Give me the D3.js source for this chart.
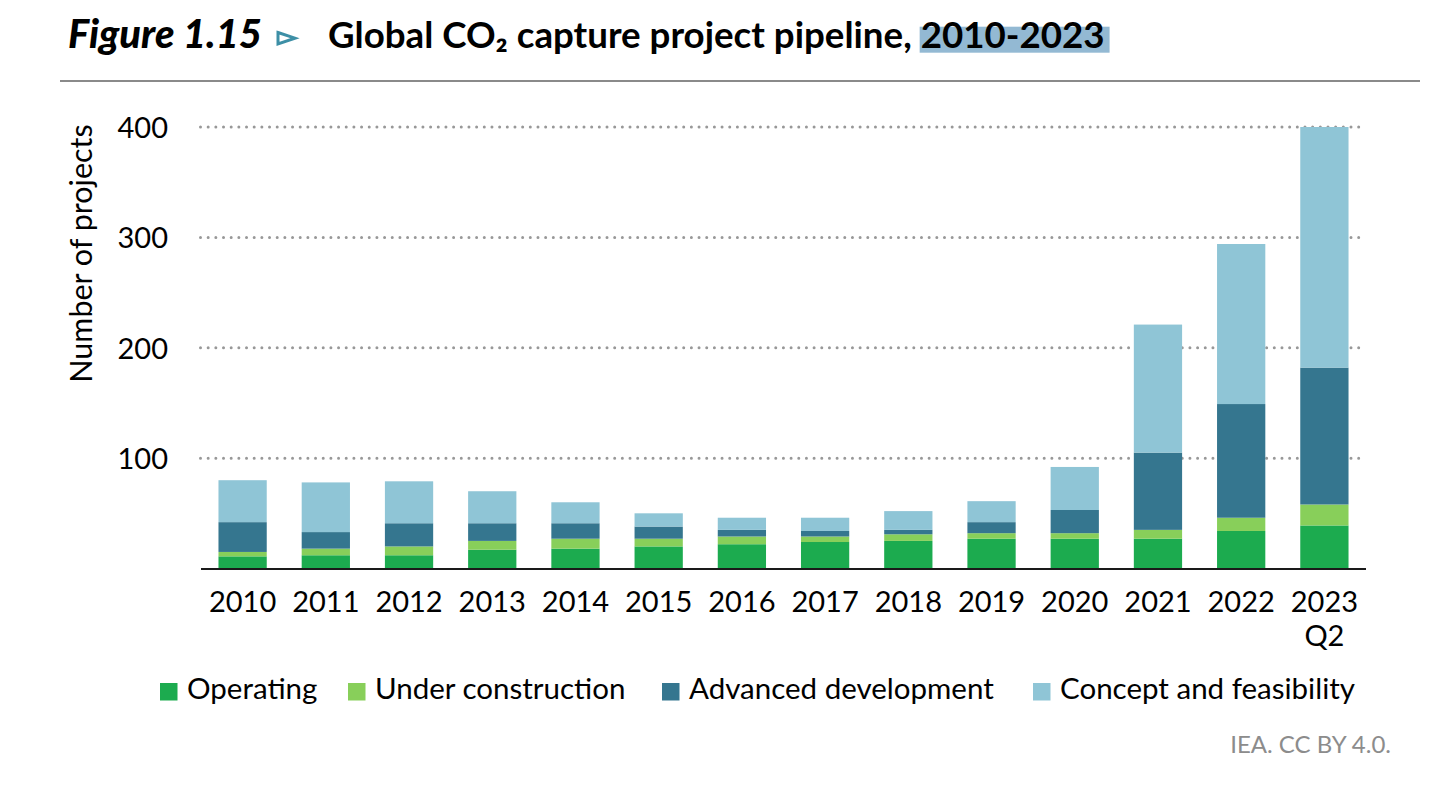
<!DOCTYPE html>
<html>
<head>
<meta charset="utf-8">
<script src="https://cdn.jsdelivr.net/npm/d3@7/dist/d3.min.js"></script>
<style>
  html, body { margin: 0; padding: 0; background: #fff; }
  svg { display: block; }
</style>
</head>
<body>
<svg id="chart" width="1448" height="785"></svg>
<script>
// ---- Data ----
const categories = ["2010","2011","2012","2013","2014","2015","2016","2017","2018","2019","2020","2021","2022","2023 Q2"];
const operating         = [11, 12, 12, 17, 18, 20, 22, 24, 25, 27, 27, 27, 34, 39];
const underConstruction = [ 4,  6,  8,  8,  9,  7,  7,  5,  6,  5,  5,  8, 12, 19];
const advancedDev       = [27, 15, 21, 16, 14, 11,  6,  5,  4, 10, 21, 70, 103, 124];
const conceptFeas       = [38, 45, 38, 29, 19, 12, 11, 12, 17, 19, 39, 116, 145, 218];
const seriesNames = ["Operating", "Under construction", "Advanced development", "Concept and feasibility"];
const seriesColors = ["#1cab4f", "#88cf5a", "#35768f", "#8fc5d6"];
const yTicks = [100, 200, 300, 400];
const titleLabel = "Figure 1.15";
const titleMain = "Global CO₂ capture project pipeline, ";
const titleYears = "2010-2023";
const yAxisTitle = "Number of projects";
const sourceText = "IEA. CC BY 4.0.";

// ---- Build table ----
const seriesArrays = [operating, underConstruction, advancedDev, conceptFeas];
const keys = seriesNames;
const table = categories.map((c, i) => {
  const row = { cat: c };
  keys.forEach((k, j) => row[k] = seriesArrays[j][i]);
  return row;
});
const stacked = d3.stack().keys(keys)(table);

const svg = d3.select("#chart");
const FONT = "Lato, 'Open Sans', sans-serif";

// ---- Scales ----
const x = d3.scaleBand().domain(categories).range([201, 1366]).paddingInner(0.42).paddingOuter(0.21);
const y = d3.scaleLinear().domain([0, 400]).range([568.5, 127]);

// ---- Gridlines ----
svg.append("g").selectAll("line").data(yTicks).join("line")
  .attr("x1", 200.5).attr("x2", 1360)
  .attr("y1", d => y(d)).attr("y2", d => y(d))
  .attr("stroke", "#989898").attr("stroke-width", 3)
  .attr("stroke-linecap", "round").attr("stroke-dasharray", "0 7.67");

// ---- Bars ----
svg.append("g").selectAll("g").data(stacked).join("g")
  .attr("fill", (d, i) => seriesColors[i])
  .selectAll("rect").data(d => d).join("rect")
  .attr("x", d => x(d.data.cat))
  .attr("width", x.bandwidth())
  .attr("y", d => y(d[1]))
  .attr("height", d => y(d[0]) - y(d[1]));

// ---- Baseline ----
svg.append("line").attr("x1", 201).attr("x2", 1366)
  .attr("y1", y(0) + 0.5).attr("y2", y(0) + 0.5)
  .attr("stroke", "#1a1a1a").attr("stroke-width", 2);

// ---- Y axis labels ----
const yAxis = d3.axisLeft(y).tickValues(yTicks).tickSize(0).tickPadding(0).tickFormat(d3.format("d"));
const yg = svg.append("g").attr("transform", "translate(168,0)").call(yAxis);
yg.select(".domain").remove();
yg.selectAll("text").attr("font-family", FONT).attr("font-size", 29).attr("fill", "#000")
  .attr("dy", "0.36em");

// ---- X axis labels ----
const xAxis = d3.axisBottom(x).tickSize(0).tickPadding(0).tickFormat(() => "");
const xg = svg.append("g").attr("transform", `translate(0,${y(0)})`).call(xAxis);
xg.select(".domain").remove();
xg.selectAll(".tick").each(function(d) {
  const t = d3.select(this).append("text")
    .attr("font-family", FONT).attr("font-size", 29).attr("fill", "#000")
    .attr("text-anchor", "middle");
  d.split(" ").forEach((part, i) => {
    t.append("tspan").attr("x", 0).attr("y", 43.5 + i * 34).text(part);
  });
});

// ---- Y axis title ----
svg.append("text")
  .attr("transform", "translate(91.5,253.5) rotate(-90)")
  .attr("text-anchor", "middle")
  .attr("font-family", FONT).attr("font-size", 30.5).attr("fill", "#000")
  .text(yAxisTitle);

// ---- Legend ----
const legendX = [160, 348, 662, 1033];
const lg = svg.append("g").selectAll("g").data(seriesNames).join("g")
  .attr("transform", (d, i) => `translate(${legendX[i]},0)`);
lg.append("rect").attr("x", 0).attr("y", 683).attr("width", 17.5).attr("height", 17.5)
  .attr("fill", (d, i) => seriesColors[i]);
lg.append("text").attr("x", 27).attr("y", 699)
  .attr("font-family", FONT).attr("font-size", 29.5).attr("fill", "#000")
  .text(d => d);

// ---- Source ----
svg.append("text").attr("x", 1391).attr("y", 753).attr("text-anchor", "end")
  .attr("font-family", FONT).attr("font-size", 24).attr("fill", "#8c8c8c")
  .text(sourceText);

// ---- Title ----
function fitWidth(sel, target) {
  const w = sel.node().getComputedTextLength();
  const fs = parseFloat(sel.attr("font-size"));
  sel.attr("font-size", fs * target / w);
}
const fig = svg.append("text").attr("x", 68).attr("y", 48)
  .attr("font-family", FONT).attr("font-weight", 900)
  .attr("font-style", "italic").attr("font-size", 32).attr("fill", "#000")
  .text(titleLabel);
fitWidth(fig, 194);

// triangle marker
svg.append("path")
  .attr("d", "M278,32.5 L295,38.2 L278,44 Z")
  .attr("fill", "none").attr("stroke", "#3d8fa6").attr("stroke-width", 3)
  .attr("stroke-linejoin", "miter");

const highlight = svg.append("rect").attr("fill", "#93b9d3");
const title = svg.append("text").attr("x", 328).attr("y", 48)
  .attr("font-family", FONT).attr("font-weight", "bold")
  .attr("font-size", 31).attr("fill", "#000");
title.append("tspan").text(titleMain);
title.append("tspan").text(titleYears);
fitWidth(title, 777);
const node = title.node();
const startIdx = titleMain.length;
const pre = node.getSubStringLength(0, startIdx);
const yrsW = node.getSubStringLength(startIdx, titleYears.length);
highlight.attr("x", 328 + pre - 1).attr("width", yrsW + 6)
  .attr("y", 26.7).attr("height", 26);

// ---- Header rule ----
svg.append("line").attr("x1", 60).attr("x2", 1420).attr("y1", 81).attr("y2", 81)
  .attr("stroke", "#8a8a8a").attr("stroke-width", 2);
</script>
</body>
</html>
